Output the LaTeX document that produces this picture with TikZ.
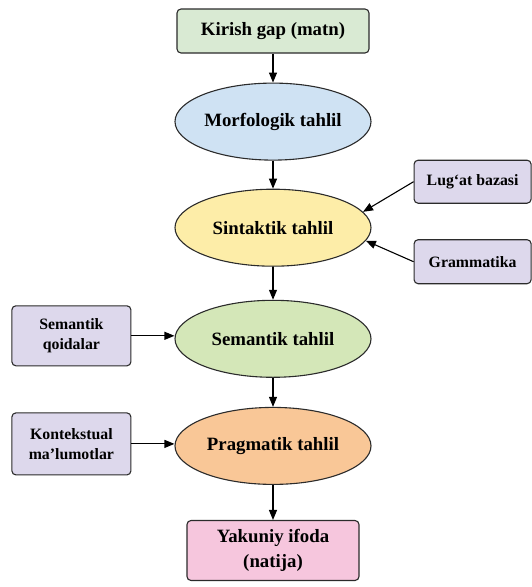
\documentclass[tikz,border=0pt]{standalone}
\usepackage{fontspec}
\setmainfont{Liberation Serif}
\usepackage{xcolor}
\usetikzlibrary{arrows.meta,positioning,shapes.geometric}

\definecolor{inpgreen}{HTML}{D9EAD3}
\definecolor{morfblue}{HTML}{CFE2F3}
\definecolor{sintyellow}{HTML}{FDEDA8}
\definecolor{semgreen}{HTML}{D4E7B8}
\definecolor{pragorange}{HTML}{F9C797}
\definecolor{reslilac}{HTML}{DDD8EC}
\definecolor{outpink}{HTML}{F6C6DD}
\definecolor{edgegray}{HTML}{2B2B2B}

\begin{document}
\begin{tikzpicture}[
    stagebox/.style={draw=edgegray, line width=1.1pt, rounded corners=4pt, align=center, font=\fontsize{18.8}{24.5}\selectfont\bfseries},
    stage/.style={ellipse, draw=edgegray, line width=1.1pt, inner sep=0pt, minimum width=196pt, minimum height=77pt, font=\fontsize{18.8}{24}\selectfont\bfseries},
    resbox/.style={draw=edgegray, line width=1.1pt, rounded corners=4pt, align=center, fill=reslilac, font=\fontsize{15.8}{20}\selectfont\bfseries},
    arr/.style={-{Triangle[length=10pt,width=8pt]}, line width=1.1pt}
]
\useasboundingbox (0,0) rectangle (531pt,-587pt);
\node[stagebox, fill=inpgreen, minimum width=192pt, minimum height=44pt] (kirish) at (273pt,-31pt) {Kirish gap (matn)};
\node[stage, fill=morfblue, below=29pt of kirish] (morf) {Morfologik tahlil};
\node[stage, fill=sintyellow, below=28pt of morf] (sint) {Sintaktik tahlil};
\node[stage, fill=semgreen, below=33pt of sint] (sem) {Semantik tahlil};
\node[stage, fill=pragorange, below=29pt of sem] (prag) {Pragmatik tahlil};
\node[stagebox, fill=outpink, minimum width=172pt, minimum height=60pt, below=35pt of prag] (natija) {Yakuniy ifoda\\(natija)};
% resources
\node[resbox, minimum width=117pt, minimum height=43pt, right=42pt of sint, yshift=46pt] (lugat) {Lug‘at bazasi};
\node[resbox, minimum width=117pt, minimum height=44pt, right=42pt of sint, yshift=-34pt] (gramm) {Grammatika};
\node[resbox, minimum width=119pt, minimum height=60pt, left=43pt of sem, yshift=3pt] (qoida) {Semantik\\qoidalar};
\node[resbox, minimum width=119pt, minimum height=62pt, left=43pt of prag, yshift=2pt] (kontekst) {Kontekstual\\ma’lumotlar};
\draw[arr] (kirish) -- (morf);
\draw[arr] (morf) -- (sint);
\draw[arr] (sint) -- (sem);
\draw[arr] (sem) -- (prag);
\draw[arr] (prag) -- (natija);
\draw[arr] (lugat.west) -- (sint.10);
\draw[arr] (gramm.west) -- (sint.-8);
\draw[arr] (qoida.east) -- (qoida.east -| sem.west);
\draw[arr] (kontekst.east) -- (kontekst.east -| prag.west);
\end{tikzpicture}
\end{document}
